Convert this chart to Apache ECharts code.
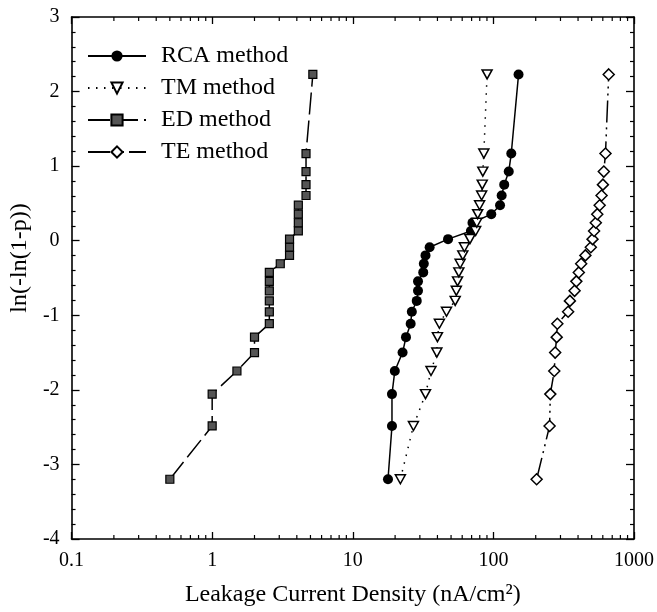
<!DOCTYPE html>
<html>
<head>
<meta charset="utf-8">
<script src="https://cdn.jsdelivr.net/npm/echarts@6/dist/echarts.min.js"></script>
<style>html,body{margin:0;padding:0;background:#fff}#c{width:657px;height:612px}</style>
</head>
<body>
<div id="c"></div>
<script>
// ln(-ln(1-p)) plotting positions shared by all methods
const yPos = [-3.199, -2.484, -2.057, -1.747, -1.500, -1.293, -1.113, -0.953, -0.807, -0.672, -0.545, -0.425, -0.309, -0.197, -0.087, 0.021, 0.131, 0.241, 0.356, 0.476, 0.606, 0.752, 0.927, 1.169, 2.23];
const rcaX = [17.8, 19.0, 19.0, 19.9, 22.6, 23.9, 25.8, 26.3, 28.5, 29.1, 29.1, 31.7, 32.0, 32.9, 35.2, 47.6, 69.2, 71.0, 96.6, 111.5, 114.5, 119.4, 128.6, 134, 151];
const tmX  = [21.8, 27.0, 32.9, 36.0, 39.6, 40.0, 41.3, 46.4, 53.5, 54.5, 55.6, 56.8, 58.0, 60.6, 62.2, 68.1, 74.8, 76.2, 77.3, 79.8, 82.5, 83.3, 84.1, 85.5, 90.2];
const edX  = [0.5, 1.0, 1.0, 1.5, 2.0, 2.0, 2.55, 2.55, 2.55, 2.55, 2.55, 2.55, 3.05, 3.55, 3.55, 3.55, 4.1, 4.1, 4.1, 4.1, 4.65, 4.65, 4.65, 4.65, 5.2];
const teX  = [203, 251, 254, 271, 275, 282, 285, 340, 350, 378, 389, 405, 421, 451, 493, 507, 520, 535, 548, 570, 588, 601, 610, 627, 661];
const seriesNames = ['RCA method', 'TM method', 'ED method', 'TE method'];
const xTickLabels = ['0.1', '1', '10', '100', '1000'];
const xMinorTicks = [0.2,0.3,0.4,0.5,0.6,0.7,0.8,0.9, 2,3,4,5,6,7,8,9, 20,30,40,50,60,70,80,90, 200,300,400,500,600,700,800,900];

const pair = (xs) => xs.map((x, i) => [x, yPos[i]]);
const FONT = 'Liberation Serif';

const chart = echarts.init(document.getElementById('c'), null, {renderer: 'canvas'});
const axisLine = {show: true, onZero: false, lineStyle: {color: '#000', width: 1.6}};
chart.setOption({
  backgroundColor: '#fff',
  animation: false,
  grid: {left: 58, right: 21, top: 17, bottom: 71, containLabel: false},
  legend: {
    orient: 'vertical', left: 82, top: 39, itemWidth: 58, itemHeight: 14, itemGap: 8,
    data: seriesNames,
    textStyle: {fontFamily: FONT, fontSize: 24, color: '#000', padding: [0, 0, 0, 10]}
  },
  xAxis: [{
    type: 'log', min: 0.1, max: 1000, logBase: 10,
    name: 'Leakage Current Density (nA/cm²)', nameLocation: 'middle', nameGap: 44,
    nameTextStyle: {fontFamily: FONT, fontSize: 24, color: '#000'},
    axisLine: axisLine,
    axisTick: {show: true, inside: true, length: 7, lineStyle: {color: '#000', width: 1.3}},
    axisLabel: {fontFamily: FONT, fontSize: 20, color: '#000', margin: 12,
      formatter: (v) => { const e = Math.round(Math.log10(v)); return xTickLabels[e + 1]; }},
    splitLine: {show: false}
  }, {
    type: 'log', min: 0.1, max: 1000, logBase: 10, position: 'top',
    axisLine: axisLine,
    axisTick: {show: true, inside: true, length: 7, lineStyle: {color: '#000', width: 1.3}},
    axisLabel: {show: false}, splitLine: {show: false}
  }],
  yAxis: [{
    type: 'value', min: -4, max: 3, interval: 1,
    name: 'ln(-ln(1-p))', nameLocation: 'middle', nameGap: 28, nameRotate: 90,
    nameTextStyle: {fontFamily: FONT, fontSize: 24, color: '#000', padding: [0, 0, 0, 40]},
    axisLine: axisLine,
    axisTick: {show: true, inside: true, length: 8, lineStyle: {color: '#000', width: 1.3}},
    minorTick: {show: true, splitNumber: 5, length: 4, lineStyle: {color: '#000', width: 1.2}},
    axisLabel: {fontFamily: FONT, fontSize: 20, color: '#000', margin: 12},
    splitLine: {show: false}
  }, {
    type: 'value', min: -4, max: 3, interval: 1, position: 'right',
    axisLine: axisLine,
    axisTick: {show: true, inside: true, length: 8, lineStyle: {color: '#000', width: 1.3}},
    minorTick: {show: true, splitNumber: 5, length: 4, lineStyle: {color: '#000', width: 1.2}},
    axisLabel: {show: false}, splitLine: {show: false}
  }],
  series: [
    {
      name: 'x minor ticks', type: 'custom', silent: true, xAxisIndex: 0, yAxisIndex: 0,
      data: xMinorTicks.map(v => [v, 0]),
      renderItem: function (params, api) {
        const v = api.value(0);
        const pb = api.coord([v, -4]);
        const pt = api.coord([v, 3]);
        const st = {stroke: '#000', lineWidth: 1.2};
        return {type: 'group', children: [
          {type: 'line', shape: {x1: pb[0], y1: pb[1], x2: pb[0], y2: pb[1] - 4}, style: st},
          {type: 'line', shape: {x1: pt[0], y1: pt[1], x2: pt[0], y2: pt[1] + 4}, style: st}
        ]};
      }
    },
    {
      name: seriesNames[0], type: 'line', data: pair(rcaX),
      symbol: 'circle', symbolSize: 10,
      itemStyle: {color: '#000'},
      lineStyle: {color: '#000', width: 1.5, type: 'solid'}
    },
    {
      name: seriesNames[1], type: 'line', data: pair(tmX),
      symbol: 'triangle', symbolSize: [10, 9], symbolRotate: 180,
      itemStyle: {color: '#fff', borderColor: '#000', borderWidth: 1.5},
      lineStyle: {color: '#000', width: 1.5, type: [1.5, 6.5]}
    },
    {
      name: seriesNames[2], type: 'line', data: pair(edX),
      symbol: 'rect', symbolSize: 8,
      itemStyle: {color: '#555', borderColor: '#000', borderWidth: 1.2},
      lineStyle: {color: '#000', width: 1.5, type: [22, 6]}
    },
    {
      name: seriesNames[3], type: 'line', data: pair(teX),
      symbol: 'diamond', symbolSize: 11,
      itemStyle: {color: '#fff', borderColor: '#000', borderWidth: 1.5},
      lineStyle: {color: '#000', width: 1.5, type: [22, 5, 2, 5, 2, 5]}
    }
  ]
});
</script>
</body>
</html>
